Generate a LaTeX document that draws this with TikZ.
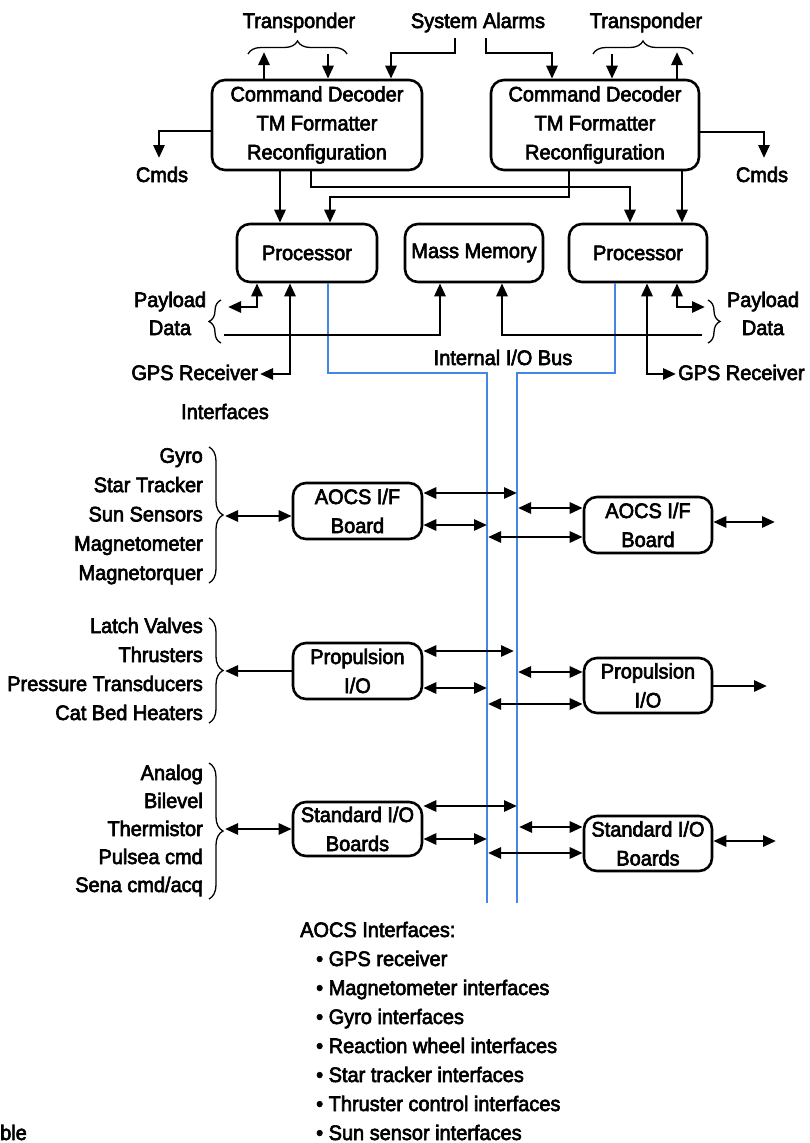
\documentclass[tikz,border=0pt]{standalone}
\usepackage{fontspec}
\setmainfont{Liberation Sans}[FakeStretch=0.95, FakeBold=3]
\usetikzlibrary{arrows.meta,decorations.pathreplacing}
\definecolor{busblue}{RGB}{66,135,225}
\newcommand\dgfont{\fontsize{21}{29}\selectfont}
\begin{document}
\begin{tikzpicture}[x=1pt,y=-1pt,
  box/.style={draw, line width=2.6pt, rounded corners=13pt, align=center, inner sep=0pt, font=\dgfont},
  lbl/.style={font=\dgfont, inner sep=0pt},
  ln/.style={line width=2.8pt},
  arr/.style={line width=2.8pt, -{Triangle[length=13pt,width=11pt]}},
  larr/.style={line width=2.8pt, {Triangle[length=13pt,width=11pt]}-},
  dbl/.style={line width=2.8pt, {Triangle[length=13pt,width=11pt]}-{Triangle[length=13pt,width=11pt]}},
  bus/.style={line width=2.8pt, draw=busblue},
  brc/.style={decorate, decoration={brace, amplitude=#1}, line width=1.3pt},
  brc/.default=13pt]
\useasboundingbox (0,0) rectangle (809,1143);

% ---------- boxes ----------
\node[box, minimum width=210pt, minimum height=90pt] (cdL) at (317,125) {Command Decoder\\TM Formatter\\Reconfiguration};
\node[box, minimum width=208pt, minimum height=90pt] (cdR) at (595,125) {Command Decoder\\TM Formatter\\Reconfiguration};
\node[box, minimum width=140pt, minimum height=58pt] (prL) at (307,253) {Processor};
\node[box, minimum width=138pt, minimum height=58pt] (mm) at (474,253) {Mass Memory};
\node[box, minimum width=138pt, minimum height=58pt] (prR) at (638,253) {Processor};
\node[box, minimum width=129pt, minimum height=56pt] (aoL) at (357.5,511) {AOCS I/F\\Board};
\node[box, minimum width=128pt, minimum height=56pt] (aoR) at (648,525) {AOCS I/F\\Board};
\node[box, minimum width=129pt, minimum height=56pt] (ppL) at (357.5,671) {Propulsion\\I/O};
\node[box, minimum width=128pt, minimum height=55pt] (ppR) at (648,685.5) {Propulsion\\I/O};
\node[box, minimum width=129pt, minimum height=54pt] (sdL) at (357.5,829) {Standard I/O\\Boards};
\node[box, minimum width=128pt, minimum height=55pt] (sdR) at (648,843.5) {Standard I/O\\Boards};

% ---------- labels ----------
\node[lbl, anchor=base] (tpL) at (299,28) {Transponder};
\node[lbl, anchor=base] (tpR) at (646,28) {Transponder};
\node[lbl, anchor=base] (sa) at (478,28) {System Alarms};
\node[lbl, anchor=base] (cmL) at (162,182) {Cmds};
\node[lbl, anchor=base] (cmR) at (762,182) {Cmds};
\node[lbl, anchor=base, align=center, font={\fontsize{21}{28}\selectfont}] (pdL) at (170,335) {Payload\\Data};
\node[lbl, anchor=base, align=center, font={\fontsize{21}{28}\selectfont}] (pdR) at (763,335) {Payload\\Data};
\node[lbl, anchor=base east] (gpsL) at (258,380) {GPS Receiver};
\node[lbl, anchor=base west] (gpsR) at (678,380) {GPS Receiver};
\node[lbl, anchor=base] (iob) at (503,365) {Internal I/O Bus};
\node[lbl, anchor=base] (ifc) at (225,419) {Interfaces};

\node[lbl, anchor=base east, align=right, font={\fontsize{21}{29.3}\selectfont}] (aoLab) at (203,580) {Gyro\\Star Tracker\\Sun Sensors\\Magnetometer\\Magnetorquer};
\node[lbl, anchor=base east, align=right, font={\fontsize{21}{29}\selectfont}] (ppLab) at (203,720) {Latch Valves\\Thrusters\\Pressure Transducers\\Cat Bed Heaters};
\node[lbl, anchor=base east, align=right, font={\fontsize{21}{28}\selectfont}] (sdLab) at (203,892) {Analog\\Bilevel\\Thermistor\\Pulsea cmd\\Sena cmd/acq};

\node[lbl, anchor=base west] (aocsT) at (300,937) {AOCS Interfaces:};
\node[lbl, anchor=base west, align=left, font={\fontsize{21}{29}\selectfont}] (aocsList) at (316,1140)
  {\textbullet\ GPS receiver\\\textbullet\ Magnetometer interfaces\\\textbullet\ Gyro interfaces\\\textbullet\ Reaction wheel interfaces\\\textbullet\ Star tracker interfaces\\\textbullet\ Thruster control interfaces\\\textbullet\ Sun sensor interfaces};
\node[lbl, anchor=base west] (ble) at (0,1140) {ble};

% ---------- internal bus ----------
\coordinate (bL) at (487,903);
\coordinate (bR) at (517,903);
\draw[bus] (prL.south -| 328,0) -- (328,373) -- (bL |- 0,373) -- (bL);
\draw[bus] (prR.south -| 615,0) -- (615,373) -- (bR |- 0,373) -- (bR);

% ---------- top ----------
\draw[brc] (248,54) -- (347,54);
\draw[brc] (593,54) -- (693,54);
\draw[arr] (cdL.north -| 264,0) -- (264,52);
\draw[arr] (328,54) -- (cdL.north -| 328,0);
\draw[arr] (612,54) -- (cdR.north -| 612,0);
\draw[arr] (cdR.north -| 677,0) -- (677,52);
\draw[arr] (455,38) -- (455,53) -- (391,53) -- (cdL.north -| 391,0);
\draw[arr] (486,38) -- (486,53) -- (552,53) -- (cdR.north -| 552,0);
\draw[arr] (cdL.west |- 0,131) -- (159,131) -- (159,158);
\draw[arr] (cdR.east |- 0,132) -- (764,132) -- (764,158);

\draw[arr] (cdL.south -| 280,0) -- (prL.north -| 280,0);
\draw[arr] (cdL.south -| 311,0) -- (311,187) -- (630,187) -- (prR.north -| 630,0);
\draw[arr] (cdR.south -| 569,0) -- (569,197) -- (330,197) -- (prL.north -| 330,0);
\draw[arr] (cdR.south -| 682,0) -- (prR.north -| 682,0);

% ---------- below processors ----------
\draw[brc=12pt] (221,343) -- (221,300);
\draw[brc=12pt] (708,300) -- (708,343);
\draw[dbl] (228,307) -- (257,307) -- (prL.south -| 257,0);
\draw[arr] (224,335) -- (440,335) -- (mm.south -| 440,0);
\draw[dbl] (gpsL.east |- 0,374) ++(2,0) -- (290,374) -- (prL.south -| 290,0);
\draw[dbl] (705,307) -- (677,307) -- (prR.south -| 677,0);
\draw[arr] (702,335) -- (502,335) -- (mm.south -| 502,0);
\draw[dbl] (676,374) -- (647,374) -- (prR.south -| 647,0);

% ---------- AOCS ----------
\draw[brc=14pt] (209,447) -- (209,583);
\draw[dbl] (225,516) -- (aoL.west |- 0,516);
\draw[dbl] (aoL.east |- 0,493) -- (bR |- 0,493);
\draw[dbl] (aoL.east |- 0,525) -- (bL |- 0,525);
\draw[dbl] ([xshift=1pt]bR |- 0,508) -- (aoR.west |- 0,508);
\draw[dbl] ([xshift=1pt]bL |- 0,537) -- (aoR.west |- 0,537);
\draw[dbl] (aoR.east |- 0,522) -- (775,522);

% ---------- Propulsion ----------
\draw[brc=14pt] (209,618) -- (209,723);
\draw[larr] (225,671) -- (ppL.west |- 0,671);
\draw[dbl] (ppL.east |- 0,651) -- ([xshift=-3pt]bR |- 0,651);
\draw[dbl] (ppL.east |- 0,688) -- (bL |- 0,688);
\draw[dbl] ([xshift=1pt]bR |- 0,672) -- (ppR.west |- 0,672);
\draw[dbl] ([xshift=1pt]bL |- 0,704) -- (ppR.west |- 0,704);
\draw[arr] (ppR.east |- 0,686) -- (767,686);

% ---------- Standard I/O ----------
\draw[brc=14pt] (209,763) -- (209,899);
\draw[dbl] (225,829) -- (sdL.west |- 0,829);
\draw[dbl] (sdL.east |- 0,806) -- (bR |- 0,806);
\draw[dbl] (sdL.east |- 0,839) -- (bL |- 0,839);
\draw[dbl] ([xshift=2pt]bR |- 0,827) -- (sdR.west |- 0,827);
\draw[dbl] ([xshift=1pt]bL |- 0,853) -- (sdR.west |- 0,853);
\draw[dbl] (sdR.east |- 0,841) -- (776,841);
\end{tikzpicture}
\end{document}
